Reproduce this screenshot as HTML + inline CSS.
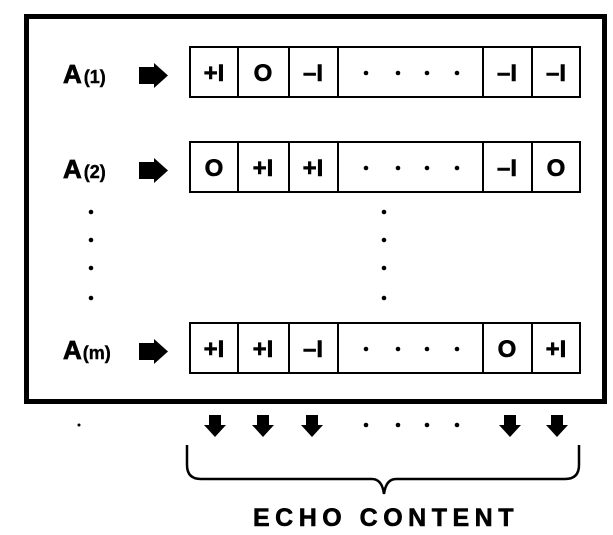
<!DOCTYPE html>
<html><head><meta charset="utf-8"><style>
html,body{margin:0;padding:0;background:#fff;}
svg{display:block;}
text{font-family:"Liberation Sans",sans-serif;font-weight:bold;fill:#000;}
</style></head><body>
<svg width="613" height="535" viewBox="0 0 613 535" xmlns="http://www.w3.org/2000/svg">
<rect x="26.5" y="16.5" width="578" height="385" fill="none" stroke="#000" stroke-width="5"/>
<defs>
<g id="rarrow"><rect x="0" y="3" width="17" height="17"/><polygon points="15,-1 29,11.5 15,24"/></g>
<g id="darrow"><rect x="-6" y="0" width="12" height="11"/><polygon points="-11,10 11,10 0,22"/></g>
</defs>
<g stroke="#000" stroke-width="2" fill="none">
<rect x="190" y="47" width="390" height="50"/>
<path d="M238 47V97M289 47V97M338 47V97M483 47V97M532 47V97"/>
<rect x="190" y="142" width="390" height="50"/>
<path d="M238 142V192M289 142V192M338 142V192M483 142V192M532 142V192"/>
<rect x="190" y="323" width="390" height="50"/>
<path d="M238 323V373M289 323V373M338 323V373M483 323V373M532 323V373"/>
</g>
<text x="63" y="83" font-size="26" stroke="#000" stroke-width="0.8">A<tspan font-size="18" dx="2" stroke-width="0.4">(1)</tspan></text>
<text x="63" y="178" font-size="26" stroke="#000" stroke-width="0.8">A<tspan font-size="18" dx="2" stroke-width="0.4">(2)</tspan></text>
<text x="63" y="359" font-size="26" stroke="#000" stroke-width="0.8">A<tspan font-size="18" dx="1" stroke-width="0.4">(m)</tspan></text>
<use href="#rarrow" x="139" y="64"/>
<use href="#rarrow" x="139" y="159"/>
<use href="#rarrow" x="139" y="340"/>
<g font-size="24" text-anchor="middle" stroke="#000" stroke-width="0.6">
<text x="214" y="81">+I</text><text x="263" y="81">O</text><text x="313" y="81">–I</text><text x="507" y="81">–I</text><text x="556" y="81">–I</text>
<text x="214" y="176">O</text><text x="263" y="176">+I</text><text x="313" y="176">+I</text><text x="507" y="176">–I</text><text x="556" y="176">O</text>
<text x="214" y="357">+I</text><text x="263" y="357">+I</text><text x="313" y="357">–I</text><text x="507" y="357">O</text><text x="556" y="357">+I</text>
</g>
<g fill="#000">
<circle cx="366" cy="73" r="2.3"/><circle cx="398" cy="73" r="2.3"/><circle cx="427" cy="73" r="2.3"/><circle cx="457" cy="73" r="2.3"/>
<circle cx="366" cy="168" r="2.3"/><circle cx="398" cy="168" r="2.3"/><circle cx="427" cy="168" r="2.3"/><circle cx="457" cy="168" r="2.3"/>
<circle cx="366" cy="349" r="2.3"/><circle cx="398" cy="349" r="2.3"/><circle cx="427" cy="349" r="2.3"/><circle cx="457" cy="349" r="2.3"/>
<circle cx="91" cy="212" r="2.3"/><circle cx="91" cy="240" r="2.3"/><circle cx="91" cy="268" r="2.3"/><circle cx="91" cy="298" r="2.3"/>
<circle cx="384" cy="212" r="2.3"/><circle cx="384" cy="240" r="2.3"/><circle cx="384" cy="268" r="2.3"/><circle cx="384" cy="298" r="2.3"/>
<circle cx="366" cy="425" r="2.3"/><circle cx="398" cy="425" r="2.3"/><circle cx="427" cy="425" r="2.3"/><circle cx="457" cy="425" r="2.3"/>
<circle cx="79" cy="425" r="1.5"/>
</g>
<use href="#darrow" x="215" y="415"/>
<use href="#darrow" x="263" y="415"/>
<use href="#darrow" x="312" y="415"/>
<use href="#darrow" x="510" y="415"/>
<use href="#darrow" x="557" y="415"/>
<path d="M187 445V465Q187 479 201 479H372Q382 479 384 494Q386 479 396 479H565Q579 479 579 465V445" fill="none" stroke="#000" stroke-width="2.5"/>
<text x="386" y="526" font-size="25" text-anchor="middle" letter-spacing="5.5" stroke="#000" stroke-width="0.6">ECHO  CONTENT</text>
</svg>
</body></html>
